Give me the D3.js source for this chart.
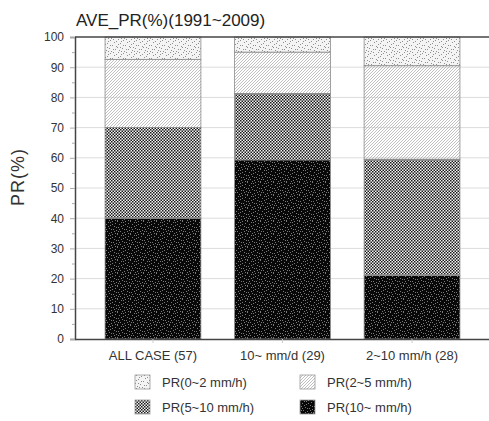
<!DOCTYPE html>
<html>
<head>
<meta charset="utf-8">
<script src="https://cdn.jsdelivr.net/npm/d3@7"></script>
<style>
  body { margin: 0; background: #fff; }
  svg { display: block; font-family: "Liberation Sans", Arial, sans-serif; }
</style>
</head>
<body>
<script>
var categories = ['ALL CASE (57)', '10~ mm/d (29)', '2~10 mm/h (28)'];
var seriesNames = ['PR(10~ mm/h)', 'PR(5~10 mm/h)', 'PR(2~5 mm/h)', 'PR(0~2 mm/h)'];
var pr10 = [40, 59.3, 21];
var pr5to10 = [30, 22, 38.5];
var pr2to5 = [22.6, 13.7, 31];
var pr0to2 = [7.4, 5, 9.5];
var yTicks = [0, 10, 20, 30, 40, 50, 60, 70, 80, 90, 100];
var legendOrder = ['PR(0~2 mm/h)', 'PR(2~5 mm/h)', 'PR(5~10 mm/h)', 'PR(10~ mm/h)'];

var width = 489, height = 421,
    margin = { top: 37, right: 0, bottom: 82, left: 75 };

var svg = d3.select('body').append('svg')
    .attr('width', width)
    .attr('height', height);

// fill patterns
var defs = svg.append('defs');

function dotTile(id, bg, dot, pts, size) {
    var p = defs.append('pattern')
        .attr('id', id)
        .attr('patternUnits', 'userSpaceOnUse')
        .attr('width', size).attr('height', size);
    p.append('rect').attr('width', size).attr('height', size).attr('fill', bg);
    pts.forEach(function (d) {
        p.append('rect').attr('x', d[0]).attr('y', d[1])
            .attr('width', 1).attr('height', 1).attr('fill', dot);
    });
}

var lightDots = [[1, 0], [6, 1], [10, 3], [3, 4], [8, 6], [0, 8], [5, 9], [11, 10], [2, 11],
    [7, 12], [12, 7], [4, 2], [9, 0], [1, 5], [6, 6], [12, 2], [4, 12], [9, 10], [3, 8]];
var darkDots = [[0, 0], [4, 1], [8, 0], [11, 2], [2, 3], [6, 4], [10, 5], [1, 6], [5, 7], [9, 8],
    [12, 9], [3, 10], [7, 11], [0, 12], [11, 12], [6, 1], [2, 8], [8, 3], [12, 6], [4, 5],
    [10, 10], [5, 12], [1, 10], [7, 8]];

dotTile('pat0', '#f4f4f4', '#8f8f8f', lightDots, 13);
dotTile('pat3', '#080808', '#7a7a7a', darkDots, 13);

var hatch = defs.append('pattern')
    .attr('id', 'pat1')
    .attr('patternUnits', 'userSpaceOnUse')
    .attr('width', 3).attr('height', 3);
hatch.append('path')
    .attr('d', 'M-1,1 l2,-2 M0,3 l3,-3 M2,4 l2,-2')
    .attr('stroke', '#b0b0b0')
    .attr('stroke-width', 0.8);

// checkerboard, shrunk so it reads as a grey dither
var checker = defs.append('pattern')
    .attr('id', 'pat2')
    .attr('patternUnits', 'userSpaceOnUse')
    .attr('patternTransform', 'scale(0.75)')
    .attr('width', 4).attr('height', 4);
checker.append('rect').attr('width', 4).attr('height', 4).attr('fill', '#f2f2f2');
checker.append('rect').attr('width', 2).attr('height', 2).attr('fill', '#1a1a1a');
checker.append('rect').attr('x', 2).attr('y', 2).attr('width', 2).attr('height', 2).attr('fill', '#1a1a1a');

var fills = {
    'PR(0~2 mm/h)': 'url(#pat0)',
    'PR(2~5 mm/h)': 'url(#pat1)',
    'PR(5~10 mm/h)': 'url(#pat2)',
    'PR(10~ mm/h)': 'url(#pat3)'
};

var rows = categories.map(function (c, i) {
    return {
        cat: c,
        'PR(10~ mm/h)': pr10[i],
        'PR(5~10 mm/h)': pr5to10[i],
        'PR(2~5 mm/h)': pr2to5[i],
        'PR(0~2 mm/h)': pr0to2[i]
    };
});

var stacked = d3.stack().keys(seriesNames)(rows);

var x = d3.scaleBand()
    .domain(categories)
    .range([margin.left, width + 1])
    .paddingInner(0.26)
    .paddingOuter(0.232);

var y = d3.scaleLinear()
    .domain([0, 100])
    .range([height - margin.bottom, margin.top]);

// grid
svg.append('g')
    .selectAll('line')
    .data(yTicks.slice(1, -1))
    .join('line')
    .attr('x1', margin.left).attr('x2', width)
    .attr('y1', function (d) { return y(d); })
    .attr('y2', function (d) { return y(d); })
    .attr('stroke', '#dcdcdc')
    .attr('stroke-width', 1);

// bars
svg.append('g')
    .selectAll('g')
    .data(stacked)
    .join('g')
    .attr('fill', function (s) { return fills[s.key]; })
    .selectAll('rect')
    .data(function (s) { return s; })
    .join('rect')
    .attr('x', function (d) { return x(d.data.cat); })
    .attr('width', x.bandwidth())
    .attr('y', function (d) { return y(d[1]); })
    .attr('height', function (d) { return y(d[0]) - y(d[1]); })
    .attr('stroke', '#8c8c8c')
    .attr('stroke-width', 0.8);

// y axis
var yAxis = svg.append('g')
    .attr('transform', 'translate(' + margin.left + ',0)')
    .call(d3.axisLeft(y).tickValues(yTicks).tickSize(5).tickPadding(6));
yAxis.select('.domain').attr('stroke', '#444').attr('stroke-width', 1.5);
yAxis.selectAll('.tick line').attr('stroke', '#aaa');
yAxis.selectAll('text').attr('font-size', 12).attr('fill', '#333');

svg.append('g')
    .attr('transform', 'translate(' + margin.left + ',0)')
    .call(d3.axisLeft(y).tickValues(d3.range(5, 100, 10)).tickSize(3).tickFormat(''))
    .call(function (g) {
        g.select('.domain').remove();
        g.selectAll('line').attr('stroke', '#aaa');
    });

// x axis
var xAxis = svg.append('g')
    .attr('transform', 'translate(0,' + y(0) + ')')
    .call(d3.axisBottom(x).tickSize(4).tickSizeOuter(0).tickPadding(8));
xAxis.select('.domain').attr('stroke', '#444').attr('stroke-width', 1.5);
xAxis.selectAll('.tick line').attr('stroke', '#ccc');
xAxis.selectAll('text').attr('font-size', 13).attr('fill', '#333');

// top frame
svg.append('line')
    .attr('x1', margin.left).attr('x2', width)
    .attr('y1', y(100)).attr('y2', y(100))
    .attr('stroke', '#444').attr('stroke-width', 1.5);

// title
svg.append('text')
    .attr('x', 76).attr('y', 26)
    .attr('font-size', 17).attr('fill', '#222')
    .text('AVE_PR(%)(1991~2009)');

// y label
svg.append('text')
    .attr('transform', 'translate(24,' + 177 + ') rotate(-90)')
    .attr('text-anchor', 'middle')
    .attr('font-size', 18).attr('letter-spacing', 1).attr('fill', '#333')
    .text('PR(%)');

// legend
var legend = svg.append('g')
    .selectAll('g')
    .data(legendOrder)
    .join('g')
    .attr('transform', function (d, i) {
        return 'translate(' + (135 + (i % 2) * 165) + ',' + (375 + Math.floor(i / 2) * 25) + ')';
    });
legend.append('rect')
    .attr('width', 15).attr('height', 14)
    .attr('fill', function (d) { return fills[d]; })
    .attr('stroke', '#999').attr('stroke-width', 0.8);
legend.append('text')
    .attr('x', 27).attr('y', 12)
    .attr('font-size', 13).attr('fill', '#333')
    .text(function (d) { return d; });
</script>
</body>
</html>
